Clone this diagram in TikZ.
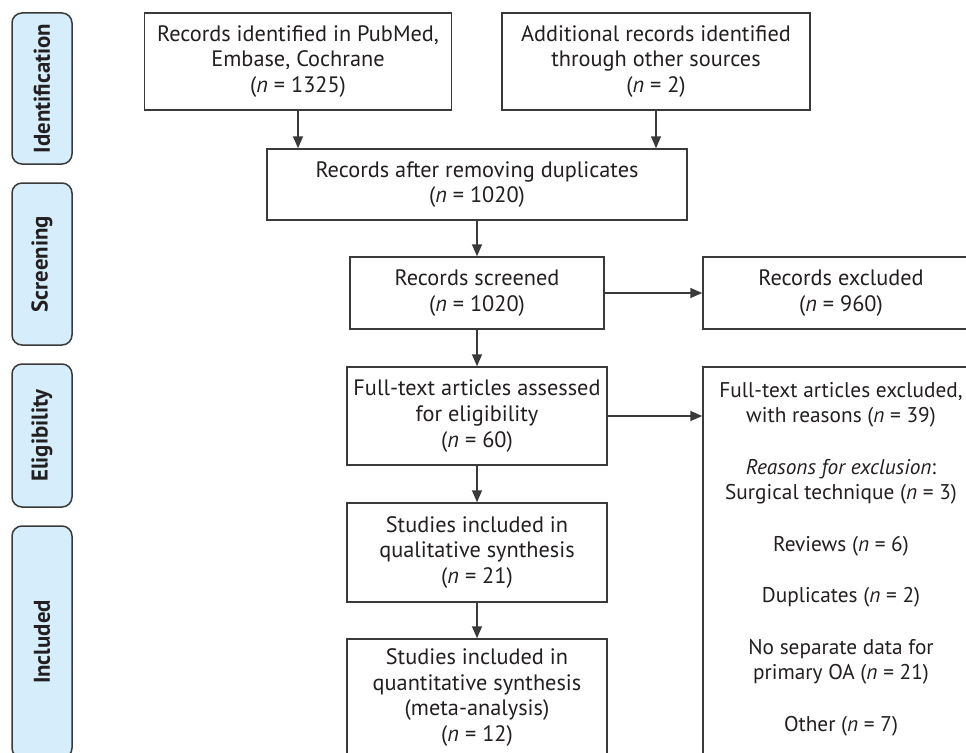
\documentclass[tikz,border=0pt]{standalone}
\usepackage{fontspec}
\setmainfont{PT Sans}
\usetikzlibrary{arrows.meta}
\definecolor{txt}{HTML}{231F20}
\definecolor{ln}{HTML}{3A3A3A}
\definecolor{phasefill}{HTML}{D6EEFB}
\begin{document}
\begin{tikzpicture}[x=1pt,y=-1pt,
  box/.style={draw=ln, line width=1.5pt, fill=white, inner sep=0pt, align=center, text=txt, font=\fontsize{22.3}{25.7}\selectfont},
  plaintext/.style={inner sep=0pt, align=center, text=txt, font=\fontsize{21.3}{25.7}\selectfont},
  phase/.style={draw=ln, line width=1.5pt, fill=phasefill, rounded corners=10pt, inner sep=0pt, text=txt, font=\bfseries\fontsize{22.8}{24}\selectfont, rotate=90},
  arr/.style={-{Triangle[length=12pt,width=10pt]}, draw=ln, line width=1.6pt}]
\useasboundingbox (0,0) rectangle (966,752);
\clip (0,0) rectangle (966,752);
\fill[white] (0,0) rectangle (966,752);

% phase labels
\node[phase, minimum width=151, minimum height=60] (ph1) at (42,88.5) {Identification};
\node[phase, minimum width=162, minimum height=60] (ph2) at (42,264) {Screening};
\node[phase, minimum width=143, minimum height=60] (ph3) at (42,435.5) {Eligibility};
\node[phase, minimum width=232, minimum height=60] (ph4) at (42,642) {Included};

% boxes
\node[box, minimum width=307, minimum height=97] (b1) at (298,61.5) {Records identified in PubMed,\\Embase, Cochrane\\(\textit{n} = 1325)};
\node[box, minimum width=308, minimum height=97] (b2) at (656,61.5) {Additional records identified\\through other sources\\(\textit{n} = 2)};
\node[box, minimum width=420, minimum height=71] (b3) at (477,184.5) {Records after removing duplicates\\(\textit{n} = 1020)};
\node[box, minimum width=254, minimum height=72] (b4) at (477,293) {Records screened\\(\textit{n} = 1020)};
\node[box, minimum width=276, minimum height=72] (b5) at (841,293) {Records excluded\\(\textit{n} = 960)};
\node[box, minimum width=260, minimum height=98] (b6) at (477,416) {Full-text articles assessed\\for eligibility\\(\textit{n} = 60)};
\node[box, minimum width=260, minimum height=99] (b7) at (477,552.5) {Studies included in\\qualitative synthesis\\(\textit{n} = 21)};
\node[box, minimum width=260, minimum height=117] (b8) at (477,697.5) {Studies included in\\quantitative synthesis\\(meta-analysis)\\(\textit{n} = 12)};
\node[box, minimum width=276, minimum height=413] (b9) at (841,573.5) {};
\node[plaintext, anchor=north] (t9) at ([yshift=-15.5pt]b9.north) {Full-text articles excluded,\\with reasons (\textit{n} = 39)\\[25.7pt]\textit{Reasons for exclusion}:\\Surgical technique (\textit{n} = 3)\\[25.7pt]Reviews (\textit{n} = 6)\\[25.7pt]Duplicates (\textit{n} = 2)\\[25.7pt]No separate data for\\primary OA (\textit{n} = 21)\\[25.7pt]Other (\textit{n} = 7)};

% arrows
\draw[arr] (b1.south) -- (b1.south |- b3.north);
\draw[arr] (b2.south) -- (b2.south |- b3.north);
\draw[arr] (b3.south) -- (b3.south |- b4.north);
\draw[arr] (b4.south) -- (b4.south |- b6.north);
\draw[arr] (b6.south) -- (b6.south |- b7.north);
\draw[arr] (b7.south) -- (b7.south |- b8.north);
\draw[arr] (b4.east) -- (b4.east -| b5.west);
\draw[arr] (b6.east) -- (b6.east -| b9.west);
\end{tikzpicture}
\end{document}
